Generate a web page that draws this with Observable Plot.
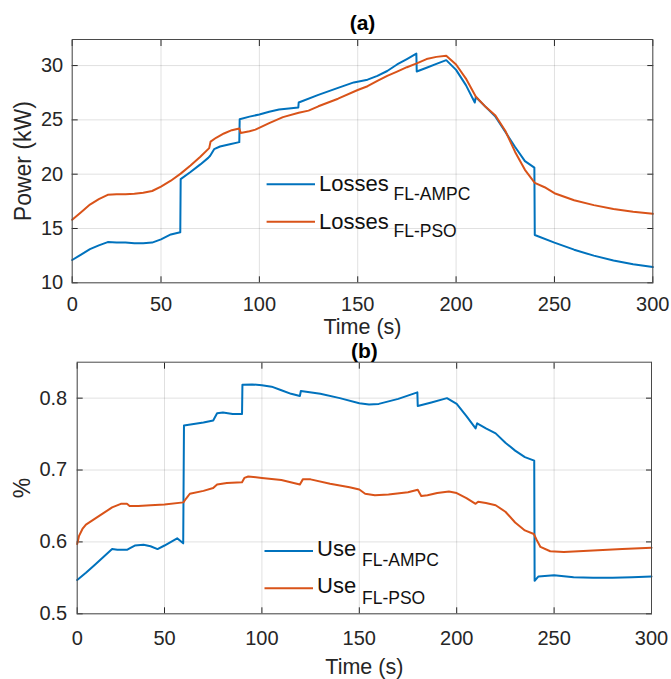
<!DOCTYPE html>
<html><head><meta charset="utf-8">
<script src="https://cdn.jsdelivr.net/npm/d3@7"></script>
<script src="https://cdn.jsdelivr.net/npm/@observablehq/plot@0.6"></script>
<style>
body{margin:0;background:#fff;}
#chart{position:relative;width:671px;height:679px;}
#chart svg{position:absolute;left:0;}
</style></head><body><div id="chart"></div>
<script>
// ---- data ----
const xTicks = [0, 50, 100, 150, 200, 250, 300];
const lossTicks = [10, 15, 20, 25, 30];
const useTicks = [0.5, 0.6, 0.7, 0.8];
const seriesNames = ["FL-AMPC", "FL-PSO"];
const seriesColors = ["#0072BD", "#D95319"];

const lossAmpcT = [0,5,10,15,20,25,30,35,40,45,50,55,59.8,60,65,70,74,75,77,80,85,89.8,90,95,100,105,110,115,119.8,120,130,140,148,155,160,165,170,175,179.8,180,185,190,195,200,205,209.5,210,215,220,225,230,235,239.8,240,250,260,270,280,290,300];
const lossAmpcV = [12.1,12.6,13.1,13.45,13.75,13.72,13.7,13.65,13.65,13.7,14.0,14.45,14.65,19.55,20.2,20.9,21.5,21.7,22.3,22.55,22.75,22.95,25.05,25.3,25.5,25.75,25.95,26.05,26.15,26.6,27.3,27.95,28.45,28.7,29.05,29.5,30.1,30.6,31.1,29.45,29.8,30.15,30.5,29.6,28.2,26.6,27.1,26.2,25.3,23.9,22.5,21.2,20.6,14.4,13.7,13.05,12.5,12.05,11.7,11.45];

const lossPsoT = [0,5,10,15,20,25,30,35,40,45,50,55,60,65,70,74.5,75.2,78,82,86,89.8,90.5,95,98,105,112,120,125,130,140,150,155,160,165,170,175,180,185,190,195,200,205,210,215,220,225,230,235,240,245,250,260,270,280,290,300];
const lossPsoV = [15.8,16.5,17.2,17.7,18.1,18.15,18.15,18.2,18.3,18.45,18.85,19.4,20.05,20.8,21.6,22.4,23.0,23.35,23.75,24.05,24.2,23.8,23.95,24.1,24.7,25.25,25.65,25.85,26.25,26.95,27.75,28.1,28.6,29.05,29.45,29.85,30.2,30.6,30.8,30.9,30.1,28.8,27.15,26.2,25.4,24.0,22.05,20.4,19.2,18.8,18.25,17.6,17.15,16.8,16.55,16.35];

const useAmpcT = [0,5,10,15,20,23,28.5,30,33,38,42,46,50,56.5,59.6,60,65,70,75,77,80,85,89.8,90,95,100,105,110,115,119.5,120,130,140,150,155,160,170,179.8,180,187,195,200,205,209.7,210.5,215,220,225,230,235,239.8,240,242,250,260,270,280,290,300];
const useAmpcV = [0.547,0.557,0.568,0.579,0.590,0.589,0.589,0.591,0.595,0.596,0.594,0.590,0.595,0.605,0.598,0.762,0.764,0.766,0.769,0.779,0.780,0.778,0.778,0.8186,0.819,0.818,0.816,0.811,0.806,0.803,0.810,0.806,0.800,0.793,0.791,0.792,0.799,0.808,0.789,0.794,0.800,0.792,0.775,0.758,0.765,0.758,0.751,0.738,0.727,0.718,0.713,0.546,0.552,0.5535,0.551,0.550,0.550,0.551,0.552];

const usePsoT = [0,1,3,5,10,15,20,25,28.5,30,35,42,50,59.7,61,63,70,75,77,82,89.8,91,93,100,110,119.5,121,125,135,145,150,153,158,165,175,180,181.8,185,190,196,200,205,209.7,211,215,220,225,230,235,239.6,241,243,248,255,270,285,300];
const usePsoV = [0.597,0.608,0.618,0.624,0.632,0.640,0.648,0.653,0.653,0.650,0.650,0.651,0.652,0.655,0.660,0.667,0.671,0.675,0.680,0.682,0.683,0.689,0.691,0.689,0.686,0.680,0.687,0.687,0.681,0.676,0.673,0.667,0.665,0.666,0.669,0.6725,0.664,0.665,0.668,0.670,0.668,0.661,0.653,0.656,0.654,0.651,0.642,0.627,0.616,0.611,0.603,0.593,0.587,0.586,0.588,0.590,0.592];

// ---- build ----
const font = '"Liberation Sans", Arial, Helvetica, sans-serif';
const zip = (name, T, V) => T.map((t, i) => ({t, v: V[i], name}));
const lossData = [...zip(seriesNames[0], lossAmpcT, lossAmpcV), ...zip(seriesNames[1], lossPsoT, lossPsoV)];
const useData = [...zip(seriesNames[0], useAmpcT, useAmpcV), ...zip(seriesNames[1], usePsoT, usePsoV)];

function panel(o) {
  const W = 671;
  const svg = Plot.plot({
    width: W, height: o.height,
    marginTop: o.mt, marginBottom: o.mb, marginLeft: o.ml, marginRight: o.mr,
    style: {background: "transparent", overflow: "visible", fontFamily: font, color: "#262626"},
    x: {type: "linear", domain: [0, 50, 300], range: o.xRange},
    y: {type: "linear", domain: o.yDomain},
    color: {domain: seriesNames, range: seriesColors},
    marks: [
      Plot.gridX(xTicks, {stroke: "#000", strokeOpacity: 0.12}),
      Plot.gridY(o.yTicks, {stroke: "#000", strokeOpacity: 0.12}),
      Plot.axisX(xTicks, {tickSize: -6, tickPadding: o.xPad, fontSize: 20, label: null, tickFormat: d => String(d)}),
      Plot.axisX(xTicks, {anchor: "top", tickSize: -6, label: null, tickFormat: () => ""}),
      Plot.axisY(o.yTicks, {tickSize: -6, tickPadding: o.yPad, fontSize: 20, label: null, tickFormat: o.yFmt}),
      Plot.axisY(o.yTicks, {anchor: "right", tickSize: -6, label: null, tickFormat: () => ""}),
      Plot.line(o.data, {x: "t", y: "v", z: "name", stroke: "name", strokeWidth: 2}),
      Plot.frame({stroke: "#4a4a4a", strokeWidth: 1}),
      Plot.text([o.title], {frameAnchor: "top", lineAnchor: "middle", textAnchor: "middle", dy: o.titleDy, fontSize: 21, fontWeight: "bold", fill: "#000"}),
      Plot.text([o.ylabel], {frameAnchor: "left", lineAnchor: "middle", textAnchor: "middle", rotate: -90, dx: o.ylabelDx, fontSize: 23, fill: "#262626"}),
      Plot.text(["Time (s)"], {frameAnchor: "bottom", lineAnchor: "middle", textAnchor: "middle", dy: o.xlabelDy, fontSize: 21.5, fill: "#262626"})
    ]
  });
  svg.style.top = o.top + "px";
  // legend (no box), MATLAB-style with subscripted series names
  const g = d3.select(svg).append("g").attr("font-family", font).attr("fill", "#111").attr("text-anchor", "start");
  o.legend.forEach((e, i) => {
    g.append("line").attr("x1", e.x1).attr("x2", e.x2).attr("y1", e.y - o.top).attr("y2", e.y - o.top)
      .attr("stroke", seriesColors[i]).attr("stroke-width", 2);
    g.append("text").attr("x", e.tx).attr("y", e.tb - o.top).attr("font-size", 22).text(o.legendWord);
    g.append("text").attr("x", e.sx).attr("y", e.sb - o.top).attr("font-size", 17.5).text(seriesNames[i]);
  });
  document.getElementById("chart").appendChild(svg);
}

panel({
  data: lossData, top: 0, height: 340, mt: 39, mb: 57.7, ml: 71.7, mr: 18.7,
  xRange: [71.7, 160.5, 652.3], yDomain: [10, 32.4], yTicks: lossTicks, yFmt: d => String(d),
  xPad: 20, yPad: 15, title: "(a)", titleDy: -16, ylabel: "Power (kW)", ylabelDx: -49, xlabelDy: 44.3,
  legendWord: "Losses",
  legend: [
    {x1: 266.6, x2: 315, y: 184.3, tx: 319, tb: 191, sx: 393.5, sb: 200},
    {x1: 266.6, x2: 315, y: 221.7, tx: 319, tb: 228.5, sx: 393.5, sb: 237.3}
  ]
});

panel({
  data: useData, top: 340, height: 339, mt: 21.7, mb: 65.7, ml: 76.7, mr: 20,
  xRange: [76.7, 164, 651], yDomain: [0.5, 0.85], yTicks: useTicks, yFmt: d => String(d),
  xPad: 22.7, yPad: 16, title: "(b)", titleDy: -10.7, ylabel: "%", ylabelDx: -54.7, xlabelDy: 53.7,
  legendWord: "Use",
  legend: [
    {x1: 264.5, x2: 313, y: 551, tx: 317, tb: 556, sx: 362, sb: 566},
    {x1: 264.5, x2: 313, y: 588.3, tx: 317, tb: 593.3, sx: 362, sb: 604}
  ]
});
</script></body></html>
